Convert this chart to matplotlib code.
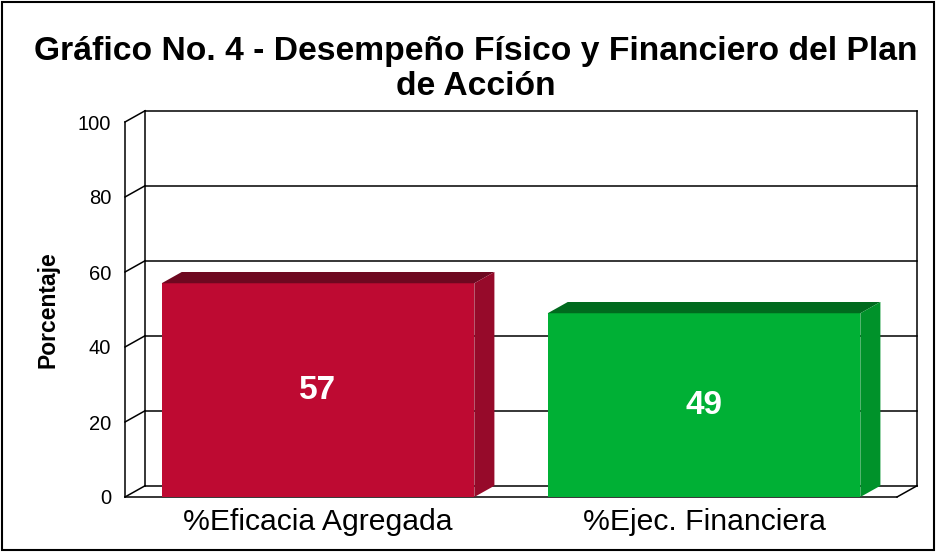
import matplotlib.pyplot as plt
from matplotlib.patches import Polygon, Rectangle

categories = ["%Eficacia Agregada", "%Ejec. Financiera"]
values = [57, 49]
y_ticks = [0, 20, 40, 60, 80, 100]

front_colors = ["#BE0A32", "#00B035"]
top_colors = ["#6E0820", "#006A1E"]
side_colors = ["#960A2A", "#00922A"]

plt.rcParams["font.family"] = ["Liberation Sans", "DejaVu Sans"]

W, H = 937, 552
fig = plt.figure(figsize=(W / 100, H / 100), dpi=100)

# front plane of the 3D box in pixels
x_left, x_right = 125, 897
y_bot, y_top = 497, 122
ax = fig.add_axes([x_left / W, 1 - y_bot / H, (x_right - x_left) / W, (y_bot - y_top) / H])
ax.set_xlim(0, 2)
ax.set_ylim(0, 100)
for s in ax.spines.values():
    s.set_visible(False)

dx = 0.052   # depth offset in x data units (~20px)
dy = 3.0     # depth offset in y data units (~11px)

line_kw = dict(color="black", lw=1.1, clip_on=False)

# back wall gridlines and edges
for t in y_ticks:
    ax.plot([dx, 2 + dx], [t + dy, t + dy], zorder=1, **line_kw)
    ax.plot([0, dx], [t, t + dy], zorder=1, **line_kw)
ax.plot([dx, dx], [dy, 100 + dy], zorder=1, **line_kw)
ax.plot([2 + dx, 2 + dx], [dy, 100 + dy], zorder=1, **line_kw)
ax.plot([0, 0], [0, 100], zorder=1, **line_kw)
# floor
ax.plot([0, 2], [0, 0], zorder=1, **line_kw)
ax.plot([2, 2 + dx], [0, dy], zorder=1, **line_kw)

# bars
width = 0.81
for i, v in enumerate(values):
    c = i + 0.5
    x0, x1 = c - width / 2, c + width / 2
    ax.add_patch(Rectangle((x0, 0), width, v, facecolor=front_colors[i],
                           edgecolor="none", zorder=3, clip_on=False))
    ax.add_patch(Polygon([(x0, v), (x1, v), (x1 + dx, v + dy), (x0 + dx, v + dy)],
                         closed=True, facecolor=top_colors[i], edgecolor="none",
                         zorder=3, clip_on=False))
    ax.add_patch(Polygon([(x1, 0), (x1 + dx, dy), (x1 + dx, v + dy), (x1, v)],
                         closed=True, facecolor=side_colors[i], edgecolor="none",
                         zorder=3, clip_on=False))
    ax.text(c, v / 2, str(v), color="white", fontsize=24, fontweight="bold",
            ha="center", va="center", zorder=4)

ax.set_yticks(y_ticks)
ax.set_yticklabels([str(t) for t in y_ticks], fontsize=14.5)
ax.set_xticks([0.5, 1.5])
ax.set_xticklabels(categories, fontsize=21.7)
ax.tick_params(axis="y", length=0, pad=10)
ax.tick_params(axis="x", length=0, pad=8)
ax.set_ylabel("Porcentaje", fontsize=16.5, fontweight="bold", labelpad=13)

fig.text(476 / W, 1 - 69 / H,
         "Gráfico No. 4 - Desempeño Físico y Financiero del Plan\nde Acción",
         ha="center", va="center", fontsize=24.2, fontweight="bold", linespacing=1.15)

fig.patches.append(Rectangle((2 / W, 2 / H), 932 / W, 548 / H, transform=fig.transFigure,
                             fill=False, edgecolor="black", lw=1.5))

plt.savefig("out.png", dpi=100)
